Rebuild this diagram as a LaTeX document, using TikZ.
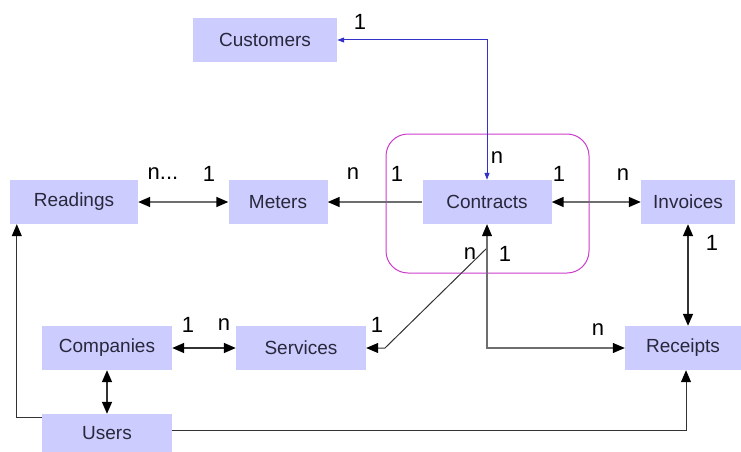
\documentclass[tikz,border=0pt]{standalone}
\usepackage{fontspec}
\setmainfont{Liberation Sans}
\usetikzlibrary{arrows.meta,calc}
\definecolor{boxfill}{RGB}{204,204,255}
\definecolor{boxtext}{RGB}{40,40,60}
\definecolor{groupc}{RGB}{204,60,204}
\definecolor{bluec}{RGB}{50,50,200}
\definecolor{linec}{RGB}{50,50,50}
\definecolor{greyc}{RGB}{110,110,110}
\tikzset{
  tip/.tip={Triangle[length=12pt,width=10pt,color=black]},
  entity/.style={fill=boxfill, text=boxtext, minimum height=44pt, inner sep=0pt,
    font=\fontsize{19}{20}\selectfont},
  card/.style={font=\fontsize{22}{23}\selectfont, text=black, inner sep=0pt},
  rel/.style={draw=linec, line width=1.6pt, tip-tip},
  relto/.style={draw=linec, line width=1.6pt, -tip},
  thin/.style={draw=linec, line width=1pt, -tip},
  blueline/.style={draw=bluec, line width=1pt, {Triangle[length=7pt,width=5pt]}-{Triangle[length=7pt,width=5pt]}},
  group/.style={draw=groupc, line width=1pt, rounded corners=22pt}
}
\begin{document}
\begin{tikzpicture}[x=1pt,y=-1pt]
\useasboundingbox (0,0) rectangle (741,452);
% group frame
\draw[group] (386,134) rectangle (589,273);
% entities
\node[entity, minimum width=144pt] (customers) at (265,40) {Customers};
\node[entity, minimum width=128pt] (readings) at (74,202) {Readings};
\node[entity, minimum width=99pt] (meters) at (278,202) {Meters};
\node[entity, minimum width=129pt] (contracts) at (487,202) {Contracts};
\node[entity, minimum width=94pt] (invoices) at (688,202) {Invoices};
\node[entity, minimum width=130pt] (companies) at (107,348) {Companies};
\node[entity, minimum width=130pt] (services) at (301,348) {Services};
\node[entity, minimum width=116pt] (receipts) at (683,348) {Receipts};
\node[entity, minimum width=130pt, minimum height=38pt] (users) at (107,433) {Users};
% helper points
\coordinate (cs) at (487,248);
\coordinate (sv) at (385,348);
% connectors
\draw[blueline] (customers.east) -| (contracts.north);
\draw[rel, draw=greyc] (readings.east) -- (meters.west);
\draw[relto, draw=greyc] (contracts.west) -- (meters.east);
\draw[rel, draw=greyc] (contracts.east) -- (invoices.west);
\draw[rel] (invoices.south) -- (invoices.south |- receipts.north);
\draw[thin] (cs) -- (sv) -- (services.east);
\draw[rel, draw=greyc, line width=1.2pt] (contracts.south) |- (receipts.west);
\draw[rel] (companies.east) -- (services.west);
\draw[rel] (companies.south) -- (users.north);
\draw[thin] ([yshift=-4pt]users.north west) -| ($(readings.south west)+(7,0)$);
\draw[thin] ([yshift=3pt]users.east) -| ([xshift=3pt]receipts.south);
% cardinalities
\node[card] (c1) at (360,22) {1};
\node[card] (c2) at (497,158) {n};
\node[card] (c3) at (397,174) {1};
\node[card] (c4) at (559,174) {1};
\node[card] (c5) at (623,175) {n};
\node[card] (c6) at (712,243) {1};
\node[card] (c7) at (470,254) {n};
\node[card] (c8) at (505,254) {1};
\node[card] (c9) at (163,174) {n...};
\node[card] (c10) at (209,174) {1};
\node[card] (c11) at (353,174) {n};
\node[card] (c12) at (188,325) {1};
\node[card] (c13) at (224,325) {n};
\node[card] (c14) at (377,325) {1};
\node[card] (c15) at (598,330) {n};
\end{tikzpicture}
\end{document}
